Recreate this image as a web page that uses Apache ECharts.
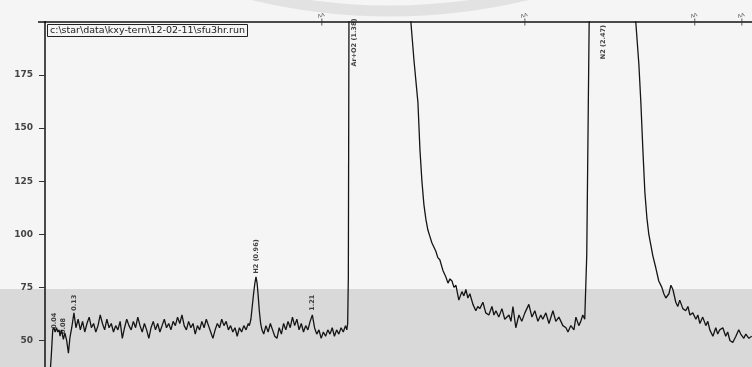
<!DOCTYPE html>
<html>
<head>
<meta charset="utf-8">
<script src="https://cdn.jsdelivr.net/npm/echarts@6/dist/echarts.min.js"></script>
<style>
  html, body { margin: 0; padding: 0; background: #f5f5f5; }
  #chart { width: 752px; height: 367px; }
</style>
</head>
<body>
<div id="chart"></div>
<script>
// detector trace: time in minutes, signal in mV
const frontTime = [0.020, 0.028, 0.035, 0.040, 0.046, 0.052, 0.058, 0.064, 0.068, 0.075, 0.083, 0.090, 0.098, 0.106, 0.113, 0.121, 0.131, 0.140];
const frontSignal = [30, 42, 55, 56, 54, 56, 54, 55, 52, 55, 50.5, 53.5, 50, 44, 51.5, 56, 63, 56];

const baseTime = [0.15, 0.16, 0.17, 0.18, 0.19, 0.20, 0.21, 0.22, 0.23, 0.24, 0.25, 0.26, 0.27, 0.28, 0.29, 0.30, 0.31, 0.32, 0.33, 0.34,
  0.35, 0.36, 0.37, 0.38, 0.39, 0.40, 0.41, 0.42, 0.43, 0.44, 0.45, 0.46, 0.47, 0.48, 0.49, 0.50, 0.51, 0.52, 0.53, 0.54,
  0.55, 0.56, 0.57, 0.58, 0.59, 0.60, 0.61, 0.62, 0.63, 0.64, 0.65, 0.66, 0.67, 0.68, 0.69, 0.70, 0.71, 0.72, 0.73, 0.74,
  0.75, 0.76, 0.77, 0.78, 0.79, 0.80, 0.81, 0.82, 0.83, 0.84, 0.85, 0.86, 0.87, 0.88, 0.89, 0.90, 0.91, 0.92];
const baseSignal = [60, 55, 59, 54, 58, 61, 56, 58, 54, 57, 62, 58, 55, 60, 56, 58, 54, 57, 55, 59,
  51, 56, 60, 57, 55, 59, 56, 61, 57, 54, 58, 55, 51, 56, 59, 55, 58, 54, 57, 60,
  56, 58, 55, 59, 57, 61, 58, 62, 57, 55, 59, 56, 58, 53, 57, 55, 59, 56, 60, 57,
  54, 51, 55, 58, 56, 60, 57, 59, 55, 57, 54, 56, 52, 56, 54, 57, 55, 58];

const h2Time = [0.925, 0.932, 0.938, 0.944, 0.950, 0.955, 0.960, 0.965, 0.970, 0.976, 0.982];
const h2Signal = [57, 60, 66, 72, 77, 80, 77, 71, 64, 58, 55];

const midTime = [0.99, 1.00, 1.01, 1.02, 1.03, 1.04, 1.05, 1.06, 1.07, 1.08, 1.09, 1.10, 1.11, 1.12, 1.13, 1.14, 1.15, 1.16, 1.17, 1.18,
  1.19, 1.20, 1.21, 1.22, 1.23, 1.24, 1.25, 1.26, 1.27, 1.28, 1.29, 1.30, 1.31, 1.32, 1.33, 1.34, 1.35, 1.36, 1.366, 1.370];
const midSignal = [53, 57, 54, 58, 55, 52, 51, 56, 53, 58, 55, 59, 56, 61, 57, 60, 55, 58, 54, 57,
  55, 59, 62, 56, 53, 55, 51, 54, 52, 55, 53, 56, 52, 55, 53, 56, 54, 57, 55, 58];

// Ar+O2 peak, off scale above 200
const arTime = [1.373, 1.376, 1.40, 1.52, 1.64, 1.656, 1.670, 1.688, 1.697, 1.706, 1.715, 1.724, 1.733, 1.742, 1.751, 1.760, 1.769, 1.778, 1.787,
  1.801, 1.814, 1.824, 1.833, 1.842, 1.851, 1.860, 1.873, 1.887, 1.896, 1.905, 1.914, 1.923, 1.937, 1.950, 1.959, 1.968, 1.982,
  1.995, 2.009, 2.023, 2.032, 2.041, 2.054, 2.068, 2.081, 2.100, 2.109, 2.118, 2.131, 2.145, 2.158, 2.172, 2.190, 2.204, 2.217,
  2.231, 2.244, 2.253, 2.267, 2.281, 2.299, 2.312, 2.326, 2.344, 2.358, 2.367, 2.380, 2.394, 2.403, 2.416, 2.425, 2.434, 2.443];
const arSignal = [80, 210, 420, 800, 300, 200, 182, 162, 140, 125, 114, 107, 102, 99, 96, 94, 92, 89, 88,
  83, 80, 77, 79, 78, 75, 76, 69, 73, 71, 74, 70, 72, 67, 64, 66, 65, 68,
  63, 62, 66, 62, 64, 61, 65, 60, 62, 59, 66, 56, 62, 59, 63, 67, 61, 64,
  59, 62, 60, 63, 58, 64, 59, 61, 57, 56, 54, 57, 55, 61, 57, 59, 62, 60];

// N2 peak, off scale above 200
const n2Time = [2.452, 2.459, 2.464, 2.50, 2.60, 2.665, 2.674, 2.688, 2.697, 2.706, 2.715, 2.724, 2.733, 2.742, 2.751, 2.765, 2.778, 2.792,
  2.801, 2.810, 2.824, 2.833, 2.842, 2.855, 2.864, 2.873, 2.887, 2.900, 2.910, 2.919, 2.932, 2.946, 2.955, 2.964, 2.977, 2.991,
  3.000, 3.009, 3.023, 3.036, 3.045, 3.054, 3.068, 3.081, 3.090, 3.100, 3.113, 3.127, 3.140, 3.149, 3.163, 3.172, 3.186, 3.199];
const n2Signal = [90, 160, 210, 500, 700, 300, 200, 180, 162, 140, 120, 108, 100, 95, 90, 84, 78, 75,
  72, 70, 72, 76, 74, 68, 66, 69, 65, 64, 66, 62, 63, 60, 62, 58, 61, 57,
  59, 55, 52, 56, 53, 55, 56, 52, 54, 50, 49, 52, 55, 53, 51, 53, 51, 52];

// peak annotations (retention times), drawn vertically
const peakLabelTime = [0.041, 0.081, 0.131, 0.955, 1.208, 1.398, 2.529];
const peakLabelAt = [55.5, 53, 64, 81.5, 64, 179, 182.5];
const peakLabelText = ['0.04', '0.08', '0.13', 'H2 (0.96)', '1.21', 'Ar+O2 (1.38)', 'N2 (2.47)'];

// event marks on the top edge
const eventTime = [1.253, 2.172, 2.941, 3.154];

const yTicks = [50, 75, 100, 125, 150, 175];
const fileName = 'c:\\star\\data\\kxy-tern\\12-02-11\\sfu3hr.run';

const zip = (t, v) => t.map((x, i) => [x, v[i]]);
const trace = [].concat(
  zip(frontTime, frontSignal),
  zip(baseTime, baseSignal),
  zip(h2Time, h2Signal),
  zip(midTime, midSignal),
  zip(arTime, arSignal),
  zip(n2Time, n2Signal)
);

const chart = echarts.init(document.getElementById('chart'), null, { renderer: 'canvas' });

chart.setOption({
  animation: false,
  backgroundColor: '#f5f5f5',
  title: {
    text: fileName,
    left: 47,
    top: 25,
    padding: [1, 3],
    borderColor: '#222',
    borderWidth: 1,
    textStyle: { fontSize: 9.5, fontWeight: 'normal', color: '#222', fontFamily: 'DejaVu Sans', lineHeight: 9 }
  },
  grid: { left: 45, top: 22, width: 707, height: 345 },
  xAxis: {
    type: 'value',
    position: 'top',
    min: 0,
    max: 3.2,
    axisLine: { show: true, lineStyle: { color: '#111', width: 1.5 } },
    axisTick: { show: false },
    axisLabel: { show: false },
    splitLine: { show: false }
  },
  yAxis: {
    type: 'value',
    min: 37.5,
    max: 200,
    interval: 12.5,
    axisLine: { show: true, lineStyle: { color: '#111', width: 1.5 } },
    axisTick: { show: true, length: 6, customValues: yTicks, lineStyle: { color: '#333' } },
    axisLabel: {
      margin: 12,
      fontSize: 9,
      fontWeight: 'bold',
      color: '#444',
      fontFamily: 'DejaVu Sans',
      customValues: yTicks
    },
    splitLine: { show: false }
  },
  graphic: [
    { type: 'rect', silent: true, z: -100, shape: { x: 0, y: 289, width: 752, height: 78 }, style: { fill: '#d9d9d9' } },
    { type: 'arc', silent: true, z: -90, shape: { cx: 390, cy: -574, r: 585, startAngle: Math.PI / 2 - 0.3, endAngle: Math.PI / 2 + 0.3 },
      style: { stroke: '#e2e2e2', lineWidth: 11, fill: null } },
    { type: 'line', silent: true, shape: { x1: 38, y1: 22, x2: 46, y2: 22 }, style: { stroke: '#111', lineWidth: 1.5 } }
  ],
  series: [
    {
      type: 'line',
      data: trace,
      showSymbol: false,
      clip: true,
      lineStyle: { color: '#151515', width: 1.3 }
    },
    {
      type: 'scatter',
      symbolSize: 0,
      data: peakLabelTime.map((t, i) => [t, peakLabelAt[i], peakLabelText[i]]),
      label: {
        show: true,
        position: 'inside',
        rotate: 90,
        align: 'left',
        verticalAlign: 'middle',
        fontSize: 6.5,
        fontWeight: 'bold',
        color: '#111',
        fontFamily: 'DejaVu Sans',
        formatter: (p) => p.value[2]
      }
    },
    {
      type: 'scatter',
      symbol: 'rect',
      symbolSize: [1, 7],
      itemStyle: { color: '#333' },
      data: eventTime.map((t) => [t, 200]),
      label: {
        show: true,
        position: 'top',
        distance: 0,
        rotate: 15,
        fontSize: 7,
        color: '#333',
        formatter: () => 'ʌʌ'
      }
    }
  ]
});
</script>
</body>
</html>
